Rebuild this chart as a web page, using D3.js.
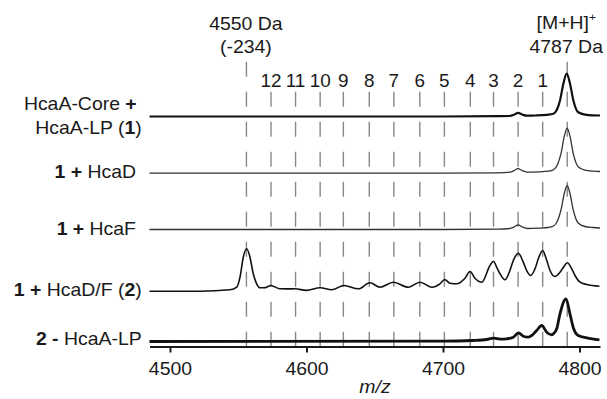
<!DOCTYPE html>
<html><head><meta charset="utf-8">
<script src="https://cdn.jsdelivr.net/npm/d3@7"></script>
<style>
html,body{margin:0;padding:0;background:#fff;}
svg{display:block;font-family:"Liberation Sans",Arial,sans-serif;}
</style></head>
<body>
<svg id="c" width="607" height="399"></svg>
<script>
// ---- data (m/z, relative intensity in arbitrary units) ----
const xTicks = [4500, 4600, 4700, 4800];
const lossLabels = ["12","11","10","9","8","7","6","5","4","3","2","1"];
const lossMz = [4574, 4592, 4610, 4627, 4646, 4664, 4683, 4701, 4720, 4737, 4755, 4773];
const truncMz = 4556;
const parentMz = 4791;

const traceNames = ["core", "hcaD", "hcaF", "hcaDF", "minusLP"];
const traceOffsets = [230, 173.3, 117, 55.3, 5];
const traceWidths = [2.2, 1.3, 1.3, 1.6, 2.8];
const traceColors = ["#111", "#333", "#333", "#111", "#111"];

const spectrumCore = [[4485,0],[4700,0],[4740,0.3],[4749,0.5],[4752,1.8],[4755,3.7],[4758,2],[4761,0.8],[4768,1],[4776,1.7],[4780.8,2.7],[4783.5,7],[4785.7,16],[4788.2,33],[4790.6,43],[4793,33],[4795.5,16],[4799,4.3],[4805,1.7],[4815,1]];
const spectrumHcaD = [[4485,0],[4700,0],[4740,0.4],[4749,1],[4752,2.5],[4755,4.5],[4758,2.6],[4762,1],[4770,1.3],[4777,2],[4781,3.5],[4784,9],[4786.5,20],[4789,38],[4791,45],[4793,37],[4795.5,19],[4799,6.5],[4804,3],[4810,2],[4815,1.7]];
const spectrumHcaF = [[4485,0],[4700,0],[4740,0.4],[4749,1],[4752,2.5],[4755,4.7],[4758,2.6],[4762,1],[4770,1.3],[4777,2],[4781,3.5],[4784,9],[4786.5,20],[4789,37],[4791,44],[4793,36],[4795.5,19],[4799,6.5],[4804,3],[4810,2],[4815,1.5]];
const spectrumHcaDF = [[4485,0],[4522,0],[4544,1.4],[4548.9,4],[4551.3,14],[4553.7,34],[4556.2,42.4],[4558.6,34],[4561,17.4],[4563.5,7.4],[4566,3.4],[4570,3.6],[4573.8,5.7],[4580.6,2.4],[4586,2.3],[4591.6,2.4],[4600,0.8],[4610,3.4],[4618.5,1.4],[4627.5,5.7],[4638,2.4],[4646.5,8.4],[4653.8,4],[4663.6,9],[4674.6,4],[4683.2,9],[4691.7,4],[4697.8,7.4],[4701.2,11.7],[4705.1,8],[4710,7.4],[4716.1,13],[4719.8,19.7],[4723.4,13],[4728.4,9],[4734.4,25.7],[4737,30],[4739.3,24],[4741.8,17.4],[4745.4,11.4],[4749,20.7],[4751.5,30.7],[4755.2,38],[4758.8,29],[4761.3,20.7],[4764.2,15.7],[4767.4,22.4],[4769.8,32.4],[4773,40.7],[4776,30.7],[4778.4,20.7],[4782,14.7],[4785.7,19],[4788.2,24],[4791.1,28.4],[4794.3,22.4],[4796.7,15.7],[4800.4,9],[4805.3,6.7],[4814.6,5]];
const spectrumMinusLP = [[4485,0],[4700,0.3],[4722,1],[4732,2],[4737,3.3],[4742,2.4],[4746.7,2.7],[4751.5,4.3],[4755.2,8.7],[4758.8,5.3],[4762.5,4.3],[4765,6],[4768.6,11],[4772.3,16],[4776,9.3],[4779.6,6.7],[4780.8,7.7],[4783.3,12.7],[4785.7,27.7],[4790.1,42.7],[4793,27.7],[4795.4,14],[4799,6],[4805.3,3.7],[4814.6,1.7]];
const traces = [spectrumCore, spectrumHcaD, spectrumHcaF, spectrumHcaDF, spectrumMinusLP];

// ---- scales ----
const svg = d3.select("#c");
const x = d3.scaleLinear().domain([4485, 4815]).range([149.5, 600]);
const y = d3.scaleLinear().domain([0, 300]).range([346.5, 46.5]);
const FS = 18, SX = 1.08;

function label(xp, yp, anchor, parts, size) {
  const t = svg.append("text")
    .attr("transform", `translate(${xp},${yp}) scale(${SX},1)`)
    .attr("text-anchor", anchor)
    .attr("font-size", size || FS)
    .attr("fill", "#1a1a1a");
  parts.forEach(p => {
    const s = t.append("tspan").text(p.t);
    if (p.b) s.attr("font-weight", "bold");
    if (p.sup) s.attr("font-size", 11).attr("dy", -8);
  });
  return t;
}

// ---- dashed guide lines ----
const dashG = svg.append("g").attr("stroke", "#888").attr("stroke-width", 1.4).attr("stroke-dasharray", "15,15");
dashG.selectAll("line.loss").data(lossMz).join("line").attr("class", "loss")
  .attr("x1", d => x(d)).attr("x2", d => x(d)).attr("y1", 91.7).attr("y2", 346);
dashG.selectAll("line.main").data([truncMz, parentMz]).join("line").attr("class", "main")
  .attr("x1", d => x(d)).attr("x2", d => x(d)).attr("y1", 61.7).attr("y2", 346);

// ---- traces ----
const line = d3.line().curve(d3.curveMonotoneX);
traces.forEach((tr, i) => {
  svg.append("path")
    .attr("d", line.x(d => x(d[0])).y(d => y(traceOffsets[i] + d[1]))(tr))
    .attr("fill", "none")
    .attr("stroke", traceColors[i])
    .attr("stroke-width", traceWidths[i])
    .attr("stroke-linejoin", "round");
});

// ---- axis ----
const ax = svg.append("g").attr("transform", "translate(0,346.5)")
  .call(d3.axisBottom(x).tickValues(xTicks).tickSize(6).tickSizeOuter(0).tickPadding(9.7).tickFormat(d3.format("d")));
ax.select(".domain").attr("stroke", "#1a1a1a").attr("stroke-width", 2);
ax.selectAll(".tick line").attr("stroke", "#1a1a1a").attr("stroke-width", 2);
ax.selectAll(".tick text").attr("font-size", FS).attr("font-family", "Liberation Sans, Arial, sans-serif")
  .attr("fill", "#1a1a1a").attr("transform", `scale(${SX},1)`);

svg.append("text").attr("transform", `translate(375,393) scale(${SX},1)`).attr("text-anchor", "middle")
  .attr("font-size", FS).attr("font-style", "italic").attr("fill", "#1a1a1a").text("m/z");

// ---- top annotations ----
label(x(truncMz) - 0.5, 29.5, "middle", [{t: "4550 Da"}]);
label(x(truncMz) - 0.5, 53, "middle", [{t: "(-234)"}]);
label(x(parentMz) - 1, 29.3, "middle", [{t: "[M+H]"}, {t: "+", sup: true}]);
label(x(parentMz) - 1, 52.7, "middle", [{t: "4787 Da"}]);
lossMz.forEach((m, i) => label(x(m), 87.3, "middle", [{t: lossLabels[i]}], 17.5));

// ---- row labels ----
label(136.7, 110, "end", [{t: "HcaA-Core "}, {t: "+", b: true}]);
label(141.7, 134.3, "end", [{t: "HcaA-LP ("}, {t: "1", b: true}, {t: ")"}]);
label(136, 178.3, "end", [{t: "1 + ", b: true}, {t: "HcaD"}]);
label(136, 235, "end", [{t: "1 + ", b: true}, {t: "HcaF"}]);
label(141.7, 295.5, "end", [{t: "1 + ", b: true}, {t: "HcaD/F ("}, {t: "2", b: true}, {t: ")"}]);
label(141.7, 345, "end", [{t: "2 - ", b: true}, {t: "HcaA-LP"}]);
</script>
</body></html>
